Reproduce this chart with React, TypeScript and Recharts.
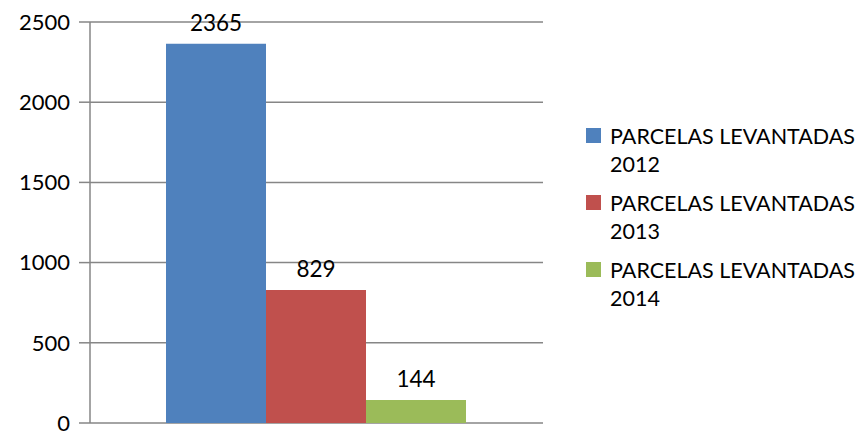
import { BarChart, Bar, CartesianGrid, XAxis, YAxis, LabelList } from "recharts";

const categories = [""];
const seriesNames = ["PARCELAS LEVANTADAS 2012", "PARCELAS LEVANTADAS 2013", "PARCELAS LEVANTADAS 2014"];
const seriesValues = [[2365], [829], [144]];
const seriesColors = ["#4F81BD", "#C0504D", "#9BBB59"];
const yTicks = [0, 500, 1000, 1500, 2000, 2500];

const data = categories.map((name, i) => {
    const row: Record<string, string | number> = { name };
    seriesNames.forEach((s, k) => {
        row["s" + k] = seriesValues[k][i];
    });
    return row;
});

const FONT = "Lato, 'Open Sans', sans-serif";

// legend drawn as plain html next to the chart
const ChartLegend = () => (
    <div style={{ position: "absolute", left: 586, top: 122, fontFamily: FONT, fontSize: 21.5, color: "#000" }}>
        {seriesNames.map((s, k) => {
            const cut = s.lastIndexOf(" ");
            return (
                <div key={s} style={{ display: "flex", alignItems: "flex-start", marginBottom: 11 }}>
                    <div style={{ width: 15, height: 15, background: seriesColors[k], marginTop: 6, marginRight: 9, flexShrink: 0 }} />
                    <div style={{ lineHeight: "28px", whiteSpace: "nowrap" }}>
                        {s.slice(0, cut)}
                        <br />
                        {s.slice(cut + 1)}
                    </div>
                </div>
            );
        })}
    </div>
);

const App = () => {
    return (
        <div style={{ position: "absolute", left: 0, top: 0, width: 855, height: 435 }}>
            <BarChart
                width={855}
                height={435}
                data={data}
                margin={{ top: 22, right: 312, left: 0, bottom: 12 }}
                barGap={0}
                barCategoryGap={76}
                style={{ fontFamily: FONT }}
            >
                <CartesianGrid vertical={false} stroke="#868686" strokeWidth={1.5} />
                <XAxis dataKey="name" tick={false} tickLine={false} axisLine={{ stroke: "#868686", strokeWidth: 1.5 }} height={0} />
                <YAxis
                    domain={[0, 2500]}
                    ticks={yTicks}
                    interval={0}
                    width={90}
                    tickSize={11}
                    tickMargin={9}
                    axisLine={{ stroke: "#868686", strokeWidth: 1.5 }}
                    tickLine={{ stroke: "#868686", strokeWidth: 1.5 }}
                    tick={{ fill: "#000", fontSize: 22 }}
                />
                {seriesNames.map((s, k) => (
                    <Bar key={s} dataKey={"s" + k} name={s} fill={seriesColors[k]} isAnimationActive={false}>
                        <LabelList dataKey={"s" + k} position="top" offset={13} fill="#000" fontSize={22.5} />
                    </Bar>
                ))}
            </BarChart>
            <ChartLegend />
        </div>
    );
};

export default App;
